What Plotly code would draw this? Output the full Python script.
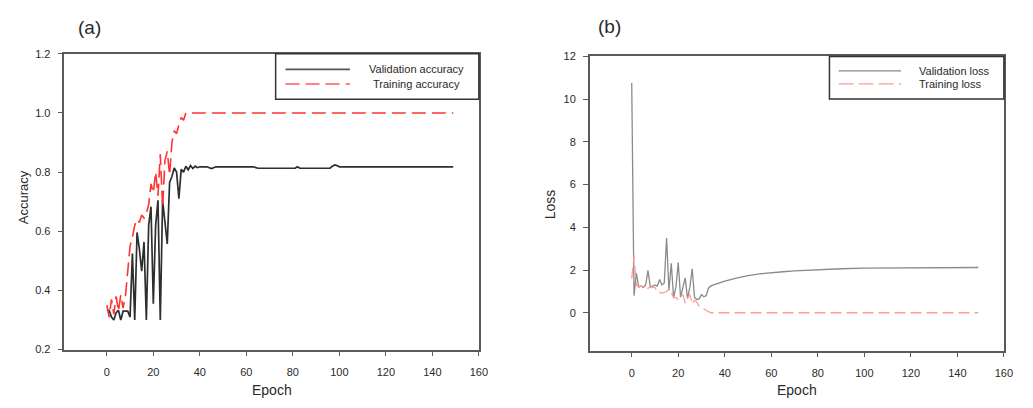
import plotly.graph_objects as go

# ---------------- data ----------------
# Panel (a): accuracy
val_acc_epoch = list(range(0, 41)) + [43, 45, 47, 55, 63, 65, 75, 81, 82, 83, 90, 96, 97, 98, 99, 100, 110, 130, 149]
val_acc = [0.333, 0.333, 0.31, 0.30, 0.325, 0.333, 0.30, 0.33, 0.33, 0.33, 0.31,
           0.525, 0.30, 0.596, 0.54, 0.465, 0.564, 0.30, 0.62, 0.683, 0.355,
           0.62, 0.705, 0.30, 0.705, 0.62, 0.557, 0.765, 0.785, 0.814, 0.80,
           0.71, 0.81, 0.80, 0.82, 0.808, 0.822, 0.812, 0.82, 0.815, 0.818,
           0.818, 0.812, 0.818, 0.818, 0.818, 0.813, 0.813, 0.813, 0.818, 0.813,
           0.813, 0.813, 0.82, 0.824, 0.822, 0.818, 0.818, 0.818, 0.818]

train_acc_epoch = list(range(0, 35)) + [60, 90, 120, 149]
train_acc = [0.35, 0.31, 0.37, 0.32, 0.38, 0.33, 0.385, 0.34, 0.38, 0.46,
             0.55, 0.58, 0.62, 0.64, 0.63, 0.655, 0.645, 0.66, 0.69, 0.76,
             0.73, 0.80, 0.72, 0.86, 0.68, 0.84, 0.87, 0.79, 0.90, 0.94,
             0.93, 0.96, 0.985, 0.975, 1.0,
             1.0, 1.0, 1.0, 1.0]

# Panel (b): loss
val_loss_epoch = list(range(0, 39)) + [40, 45, 50, 55, 60, 65, 70, 75, 80, 90, 100, 110, 120, 130, 140, 149]
val_loss = [10.75, 0.8, 1.86, 1.2, 1.25, 1.2, 1.3, 1.98, 1.2, 1.25,
            1.3, 1.25, 1.56, 1.3, 1.4, 3.5, 1.05, 2.31, 0.73, 1.2,
            2.35, 0.73, 1.2, 1.63, 0.66, 1.2, 2.06, 0.73, 0.62, 0.65,
            0.85, 0.75, 0.80, 1.15, 1.26, 1.3, 1.33, 1.36, 1.4,
            1.48, 1.62, 1.74, 1.82, 1.88, 1.92, 1.96, 1.99, 2.02, 2.06,
            2.09, 2.1, 2.1, 2.11, 2.12, 2.12]

train_loss_epoch = list(range(0, 35)) + [60, 90, 120, 149]
train_loss = [1.6, 2.65, 1.3, 1.2, 1.25, 1.18, 1.2, 1.15, 1.2, 1.18,
              1.2, 0.95, 0.95, 0.92, 0.95, 1.0, 1.12, 0.95, 0.7, 0.72,
              0.62, 0.75, 0.85, 0.45, 0.7, 0.85, 0.4, 0.6, 0.5, 0.3,
              0.25, 0.2, 0.12, 0.05, 0.0,
              0.0, 0.0, 0.0, 0.0]

x_ticks = [0, 20, 40, 60, 80, 100, 120, 140, 160]
acc_ticks = [0.2, 0.4, 0.6, 0.8, 1.0, 1.2]
loss_ticks = [0, 2, 4, 6, 8, 10, 12]

# ---------------- styles ----------------
FONT = "Liberation Sans, Arial, sans-serif"
AXC = "#5a5a5a"
TXT = "#2a2a2a"
C_VACC = "#2e2e2e"
C_TACC = "#ff3333"
C_VLOSS = "#8a8a8a"
C_TLOSS = "#ff9c9c"

fig = go.Figure()
fig.add_trace(go.Scatter(x=val_acc_epoch, y=val_acc, mode="lines", name="Validation accuracy",
                         line=dict(color=C_VACC, width=1.7), xaxis="x", yaxis="y"))
fig.add_trace(go.Scatter(x=train_acc_epoch, y=train_acc, mode="lines", name="Training accuracy",
                         line=dict(color=C_TACC, width=1.6, dash="14px,6px"), xaxis="x", yaxis="y"))
fig.add_trace(go.Scatter(x=val_loss_epoch, y=val_loss, mode="lines", name="Validation loss",
                         line=dict(color=C_VLOSS, width=1.3), xaxis="x2", yaxis="y2"))
fig.add_trace(go.Scatter(x=train_loss_epoch, y=train_loss, mode="lines", name="Training loss",
                         line=dict(color=C_TLOSS, width=1.3, dash="11px,5px"), xaxis="x2", yaxis="y2"))

# the page body has an 8px default margin: build the figure 8px smaller and shift positions
OFF = 8
W, H = 1033 - OFF, 408 - OFF

def px(X):
    return (X - OFF) / W

def py(Y):
    return 1 - (Y - OFF) / H

common_axis = dict(showline=True, linecolor=AXC, linewidth=1.6, mirror=True, showgrid=False,
                   zeroline=False, ticks="outside", ticklen=5, tickwidth=1.3, tickcolor=AXC,
                   tickfont=dict(size=11, color=TXT, family=FONT))

fig.update_layout(
    width=W, height=H, autosize=False,
    margin=dict(l=0, r=0, t=0, b=0),
    paper_bgcolor="white", plot_bgcolor="white",
    showlegend=False,
    font=dict(family=FONT, color=TXT),
    xaxis=dict(domain=[px(65), px(483)], range=[-18.2, 160], tickvals=x_ticks, anchor="y",
               ticklabelstandoff=6, **common_axis),
    yaxis=dict(domain=[py(354), py(49)], range=[0.2, 1.2], tickvals=acc_ticks,
               tickformat=".1f", anchor="x", ticklabelstandoff=5, **common_axis),
    xaxis2=dict(domain=[px(595), px(1012.7)], range=[-18.0, 160], tickvals=x_ticks, anchor="y2",
                ticklabelstandoff=6, **common_axis),
    yaxis2=dict(domain=[py(355), py(51.7)], range=[-1.77, 12], tickvals=loss_ticks,
                anchor="x2", ticklabelstandoff=5, **common_axis),
)

# ---------------- manual legends (long sample lines like the original) ----------------
shapes = []
annots = []

def legend_box(xr, yr, x0, y0, items, text_x, text_anchor):
    shapes.append(dict(type="rect", xref=xr, yref=yr, x0=x0, x1=1, y0=y0, y1=1,
                       line=dict(color="#333333", width=1.5), fillcolor="white", layer="above"))
    for (sx0, sx1, sy, color, width, dash, label) in items:
        shapes.append(dict(type="line", xref=xr, yref=yr, x0=sx0, x1=sx1, y0=sy, y1=sy,
                           line=dict(color=color, width=width, dash=dash), layer="above"))
        annots.append(dict(xref=xr, yref=yr, x=text_x, y=sy, text=label, showarrow=False,
                           xanchor=text_anchor, yanchor="middle",
                           font=dict(size=11, color=TXT, family=FONT)))

legend_box("x domain", "y domain", 0.5096, 0.846,
           [(0.5335, 0.689, 0.9475, "#555555", 1.7, "solid", "Validation accuracy"),
            (0.5335, 0.689, 0.898, "#ff5a5a", 1.6, "14px,6px", "Training accuracy")],
           0.849, "center")
legend_box("x2 domain", "y2 domain", 0.5787, 0.855,
           [(0.6009, 0.7517, 0.9505, C_VLOSS, 1.3, "solid", "Validation loss"),
            (0.6009, 0.7517, 0.9067, C_TLOSS, 1.3, "15px,5px", "Training loss")],
           0.790, "left")

# panel labels and axis titles
annots += [
    dict(xref="paper", yref="paper", x=px(90), y=py(22), text="(a)", showarrow=False,
         xanchor="center", yanchor="middle", font=dict(size=19, color=TXT, family=FONT)),
    dict(xref="paper", yref="paper", x=px(615), y=py(21), text="(b)", showarrow=False,
         xanchor="center", yanchor="middle", font=dict(size=19, color=TXT, family=FONT)),
    dict(xref="paper", yref="paper", x=px(23), y=py(197), text="Accuracy", showarrow=False,
         textangle=-90, xanchor="center", yanchor="middle", font=dict(size=13, color=TXT, family=FONT)),
    dict(xref="paper", yref="paper", x=px(555), y=py(204), text="Loss", showarrow=False,
         textangle=-90, xanchor="center", yanchor="middle", font=dict(size=14, color=TXT, family=FONT)),
    dict(xref="paper", yref="paper", x=px(274), y=py(396), text="Epoch", showarrow=False,
         xanchor="center", yanchor="middle", font=dict(size=14, color=TXT, family=FONT)),
    dict(xref="paper", yref="paper", x=px(804), y=py(396), text="Epoch", showarrow=False,
         xanchor="center", yanchor="middle", font=dict(size=14, color=TXT, family=FONT)),
]

fig.update_layout(shapes=shapes, annotations=annots)
fig.write_html("out.html")
